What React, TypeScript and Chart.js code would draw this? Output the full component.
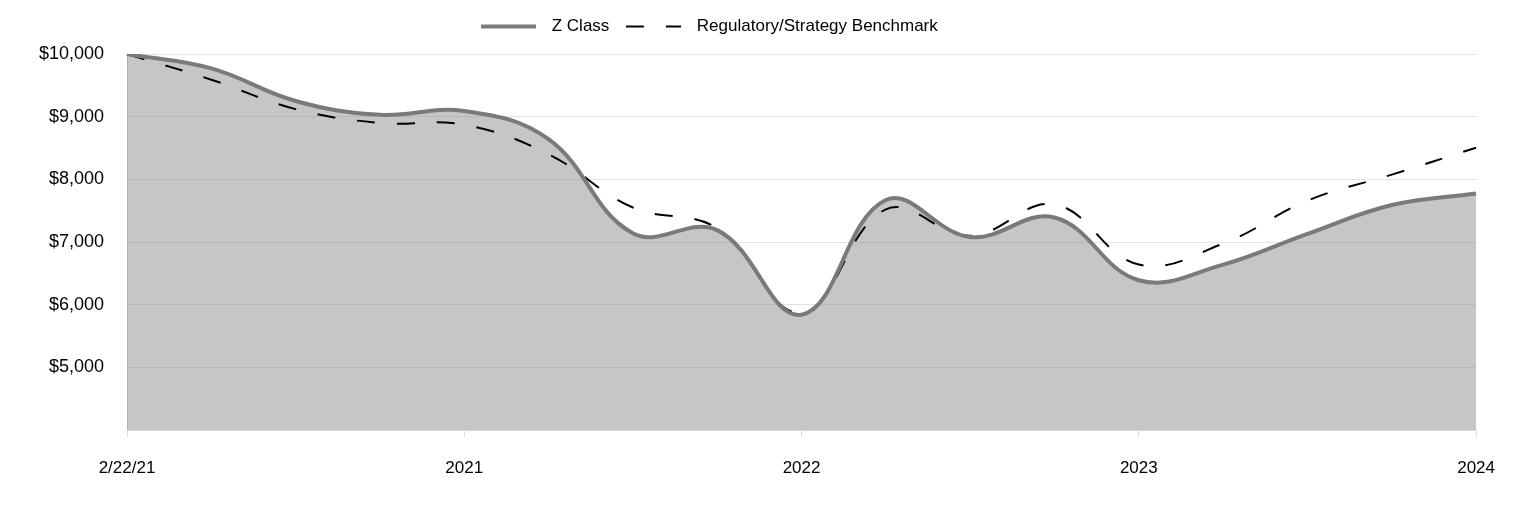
import React, { useEffect, useRef } from 'react';
import { Chart, registerables } from 'chart.js';

Chart.register(...registerables);

const categories = ['2/22/21', '', '', '', '2021', '', '', '', '2022', '', '', '', '2023', '', '', '', '2024'];
const zClass = [10000, 9770, 9250, 9030, 9090, 8640, 7140, 7190, 5840, 7670, 7080, 7390, 6390, 6640, 7130, 7590, 7775];
const benchmark = [10000, 9590, 9120, 8900, 8870, 8400, 7550, 7220, 5870, 7520, 7100, 7600, 6640, 6975, 7660, 8075, 8505];
const yMin = 4000;
const yMax = 10000;
const yStep = 1000;

const FONT = "'Liberation Sans', Arial, sans-serif";

function lineSample(color: string, width: number, dash: number[]) {
  const c = document.createElement('canvas');
  c.width = 55;
  c.height = 8;
  const g = c.getContext('2d') as CanvasRenderingContext2D;
  g.strokeStyle = color;
  g.lineWidth = width;
  g.setLineDash(dash);
  g.beginPath();
  g.moveTo(0, 4);
  g.lineTo(55, 4);
  g.stroke();
  return c;
}

export default function App() {
  const ref = useRef<HTMLCanvasElement>(null);
  useEffect(() => {
    const samples = [lineSample('#7a7a7a', 4, []), lineSample('#000000', 2, [18, 22])];
    const legendTweak = {
      id: 'legendTweak',
      beforeInit(chart: any) {
        const lg = chart.legend;
        const fit = lg.fit;
        lg.fit = function () {
          fit.call(this);
          this.height += 9;
        };
        const draw = lg.draw;
        lg.draw = function () {
          const ctx = this.ctx;
          ctx.save();
          ctx.translate(-38, 0);
          draw.call(this);
          ctx.restore();
        };
      },
    };
    const chart = new Chart(ref.current as HTMLCanvasElement, {
      type: 'line',
      data: {
        labels: categories,
        datasets: [
          {
            label: 'Z Class',
            data: zClass,
            borderColor: '#7a7a7a',
            backgroundColor: 'rgba(125,125,125,0.44)',
            borderWidth: 4,
            fill: 'start',
            pointRadius: 0,
            tension: 0.4,
          },
          {
            label: 'Regulatory/Strategy Benchmark',
            data: benchmark,
            borderColor: '#000000',
            backgroundColor: 'rgba(0,0,0,0)',
            borderWidth: 2,
            borderDash: [18, 22],
            fill: false,
            pointRadius: 0,
            tension: 0.4,
          },
        ],
      },
      plugins: [legendTweak],
      options: {
        responsive: true,
        maintainAspectRatio: false,
        animation: false,
        layout: { padding: { top: 1, right: 37, bottom: 0, left: 0 } },
        plugins: {
          filler: { drawTime: 'beforeDatasetsDraw' },
          tooltip: { enabled: false },
          legend: {
            position: 'top',
            labels: {
              usePointStyle: true,
              pointStyleWidth: 70,
              padding: 9,
              color: '#000',
              font: { family: FONT, size: 17 },
              generateLabels: (ch: any) => {
                const items = (Chart.defaults as any).plugins.legend.labels.generateLabels(ch);
                items.forEach((it: any, i: number) => {
                  it.pointStyle = samples[i];
                });
                return items;
              },
            },
          },
        },
        scales: {
          x: {
            type: 'category',
            offset: false,
            grid: {
              drawOnChartArea: false,
              drawTicks: true,
              tickLength: 7,
              tickColor: (ctx: any) => (categories[ctx.index] ? '#dddddd' : 'rgba(0,0,0,0)'),
            },
            border: { display: true, color: '#d9d9d9' },
            ticks: {
              autoSkip: false,
              maxRotation: 0,
              padding: 21,
              color: '#000',
              font: { family: FONT, size: 17 },
              callback: (_v: any, i: number) => categories[i],
            },
            afterFit: (scale: any) => {
              scale.height = 78;
            },
          },
          y: {
            min: yMin,
            max: yMax,
            grid: {
              drawTicks: false,
              color: (ctx: any) => (ctx.tick && ctx.tick.value === yMin ? 'rgba(0,0,0,0)' : '#e4e4e4'),
            },
            border: { display: true, color: '#d9d9d9' },
            ticks: {
              stepSize: yStep,
              padding: 23,
              color: '#000',
              font: { family: FONT, size: 18 },
              callback: (v: any) => (Number(v) === yMin ? '' : '$' + Number(v).toLocaleString('en-US')),
            },
            afterFit: (scale: any) => {
              scale.width = 119;
            },
          },
        },
      },
    } as any);
    return () => chart.destroy();
  }, []);
  return (
    <div style={{ position: 'relative', width: 1508, height: 500 }}>
      <canvas ref={ref} />
    </div>
  );
}
